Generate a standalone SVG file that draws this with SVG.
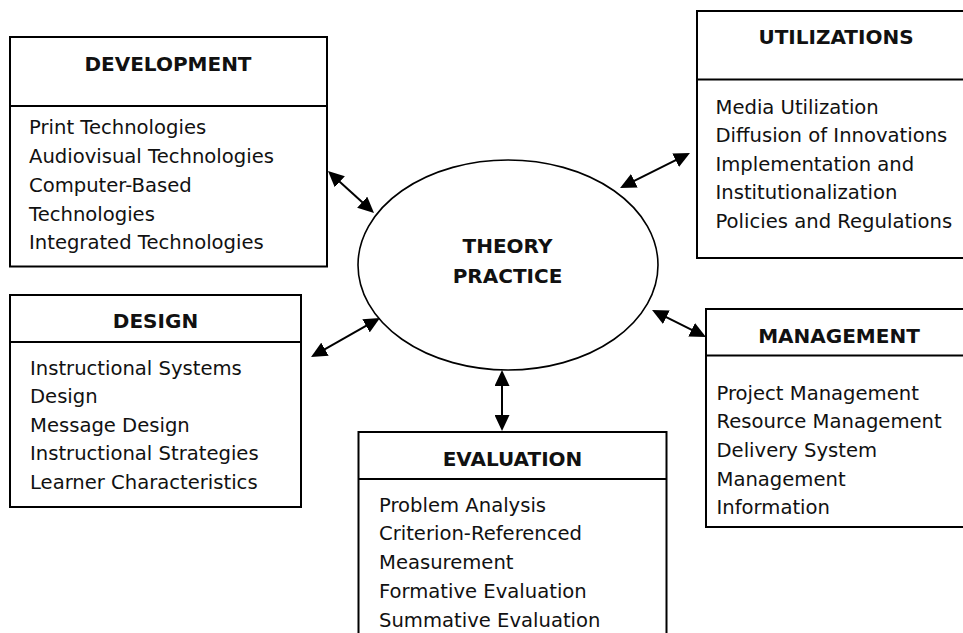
<svg xmlns="http://www.w3.org/2000/svg" width="963" height="633" viewBox="0 0 963 633">
<style>
.box{fill:#fff;stroke:#000;stroke-width:2}
.div{stroke:#000;stroke-width:2}
.t{font-family:"DejaVu Sans",Verdana,sans-serif;font-weight:bold;font-size:20px;fill:#111;text-anchor:middle}
.b{font-family:"DejaVu Sans",Verdana,sans-serif;font-size:19.6px;fill:#111}
.c{stroke:#000;stroke-width:2;fill:none;marker-start:url(#ah);marker-end:url(#ah)}
</style>
<defs>
<marker id="ah" markerUnits="userSpaceOnUse" markerWidth="16" markerHeight="15" refX="8" refY="7.5" orient="auto-start-reverse">
<path d="M0,0 L16,7.5 L0,15 z" fill="#000"/>
</marker>
</defs>
<rect width="963" height="633" fill="#fff"/>
<g id="development">
<rect class="box" x="10" y="37" width="317" height="229.5"/>
<line class="div" x1="10" y1="106" x2="327" y2="106"/>
<text class="t" x="168" y="71">DEVELOPMENT</text>
<text class="b" x="29" y="134">Print Technologies</text>
<text class="b" x="29" y="163">Audiovisual Technologies</text>
<text class="b" x="29" y="191.7">Computer-Based</text>
<text class="b" x="29" y="220.5">Technologies</text>
<text class="b" x="29" y="249.3">Integrated Technologies</text>
</g>
<g id="utilizations">
<rect class="box" x="697" y="11" width="280" height="247"/>
<line class="div" x1="697" y1="79.5" x2="977" y2="79.5"/>
<text class="t" x="836" y="44">UTILIZATIONS</text>
<text class="b" x="715.5" y="113.5">Media Utilization</text>
<text class="b" x="715.5" y="142">Diffusion of Innovations</text>
<text class="b" x="715.5" y="170.5">Implementation and</text>
<text class="b" x="715.5" y="199">Institutionalization</text>
<text class="b" x="715.5" y="227.5">Policies and Regulations</text>
</g>
<g id="design">
<rect class="box" x="10" y="295" width="291" height="212"/>
<line class="div" x1="10" y1="342" x2="301" y2="342"/>
<text class="t" x="155.5" y="328">DESIGN</text>
<text class="b" x="30" y="374.5">Instructional Systems</text>
<text class="b" x="30" y="403">Design</text>
<text class="b" x="30" y="431.5">Message Design</text>
<text class="b" x="30" y="460">Instructional Strategies</text>
<text class="b" x="30" y="488.5">Learner Characteristics</text>
</g>
<g id="management">
<rect class="box" x="706" y="309" width="270" height="218"/>
<line class="div" x1="706" y1="355.5" x2="976" y2="355.5"/>
<text class="t" x="839" y="343">MANAGEMENT</text>
<text class="b" x="716.5" y="399.5">Project Management</text>
<text class="b" x="716.5" y="428">Resource Management</text>
<text class="b" x="716.5" y="457">Delivery System</text>
<text class="b" x="716.5" y="485.5">Management</text>
<text class="b" x="716.5" y="514">Information</text>
</g>
<g id="evaluation">
<rect class="box" x="358.5" y="432" width="308" height="230"/>
<line class="div" x1="358.5" y1="479" x2="666.5" y2="479"/>
<text class="t" x="512.5" y="466">EVALUATION</text>
<text class="b" x="379" y="511.5">Problem Analysis</text>
<text class="b" x="379" y="540">Criterion-Referenced</text>
<text class="b" x="379" y="569">Measurement</text>
<text class="b" x="379" y="597.5">Formative Evaluation</text>
<text class="b" x="379" y="626.5">Summative Evaluation</text>
</g>
<g id="theory-practice">
<ellipse cx="508" cy="265" rx="150" ry="105" fill="#fff" stroke="#000" stroke-width="1.6"/>
<text class="t" x="507.5" y="253">THEORY</text>
<text class="t" x="507.5" y="283">PRACTICE</text>
</g>
<g id="connectors">
<line class="c" x1="333.9" y1="176.4" x2="368.1" y2="207.6"/>
<line class="c" x1="682.8" y1="156.6" x2="627.2" y2="184.4"/>
<line class="c" x1="318" y1="353.1" x2="373" y2="321.9"/>
<line class="c" x1="659.2" y1="313.6" x2="698.8" y2="333.4"/>
<line class="c" x1="502" y1="378" x2="502" y2="423"/>
</g>
</svg>
